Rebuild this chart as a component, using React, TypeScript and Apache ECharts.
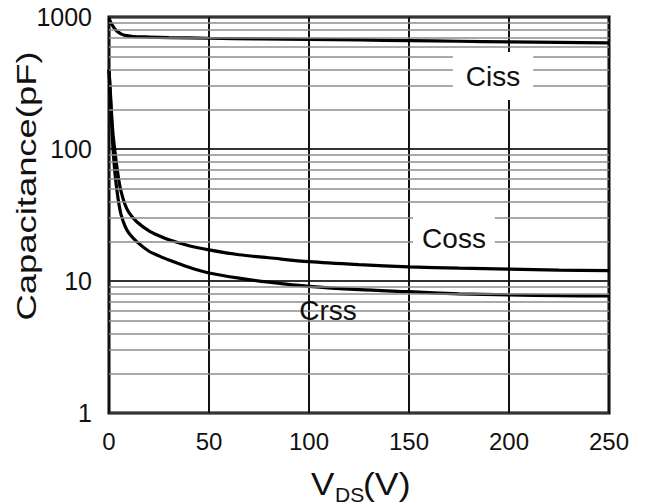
import { useEffect, useRef } from 'react';
import * as echarts from 'echarts';

// V_DS (V) sample points and capacitance (pF)
const cissV = [0, 1, 2, 3, 4, 6, 8, 12, 20, 30, 50, 75, 100, 125, 150, 175, 200, 225, 250];
const cissC = [980, 900, 850, 810, 780, 745, 725, 712, 705, 698, 690, 683, 677, 670, 662, 655, 648, 642, 636];

const cossV = [0, 0.5, 1, 1.5, 2, 3, 4, 5, 6, 8, 10, 14, 20, 25, 30, 40, 50, 65, 80, 100, 125, 150, 175, 200, 225, 250];
const cossC = [400, 300, 220, 165, 130, 95, 72, 57, 48, 38, 33, 28, 24, 22, 20.5, 18.5, 17.2, 15.8, 15, 14, 13.3, 12.8, 12.5, 12.3, 12.1, 12.0];

const crssV = [0, 0.5, 1, 1.5, 2, 3, 4, 5, 6, 8, 10, 14, 20, 25, 30, 40, 50, 65, 80, 100, 125, 150, 175, 200, 225, 250];
const crssC = [400, 280, 200, 140, 100, 65, 48, 38, 32, 26, 23, 19.8, 16.8, 15.5, 14.4, 12.7, 11.5, 10.5, 9.8, 9.1, 8.6, 8.3, 8.0, 7.85, 7.75, 7.7];

const xTicks = [0, 50, 100, 150, 200, 250];
const yDecades = [1, 10, 100, 1000];
const minorGrid = [2, 3, 4, 5, 6, 7, 8, 9, 20, 30, 40, 50, 60, 70, 80, 90, 200, 300, 400, 500, 600, 700, 800, 900];

const FONT = '"Liberation Sans", Arial, Helvetica, sans-serif';

const pairs = (xs: number[], ys: number[]) => xs.map((x, i) => [x, ys[i]]);

export default function App() {
  const ref = useRef<HTMLDivElement>(null);
  useEffect(() => {
    if (!ref.current) return;
    const chart = echarts.init(ref.current, undefined, { renderer: 'svg' });
    const curve = (name: string, data: number[][]) => ({
      name,
      type: 'line',
      data,
      smooth: 0.3,
      showSymbol: false,
      symbol: 'none',
      z: 3,
      lineStyle: { color: '#000', width: 3.2 },
      silent: true,
    });
    chart.setOption({
      animation: false,
      backgroundColor: '#fff',
      grid: {
        left: 109,
        top: 17,
        width: 500,
        height: 396,
        show: true,
        borderColor: '#000',
        borderWidth: 3,
        backgroundColor: 'transparent',
      },
      xAxis: {
        type: 'value',
        min: xTicks[0],
        max: xTicks[xTicks.length - 1],
        interval: 50,
        axisLine: { show: false },
        axisTick: { show: false },
        axisLabel: { fontSize: 24, color: '#111', fontFamily: FONT, margin: 16 },
        splitLine: { show: true, lineStyle: { color: '#111', width: 2 } },
      },
      yAxis: {
        type: 'log',
        logBase: 10,
        min: yDecades[0],
        max: yDecades[yDecades.length - 1],
        axisLine: { show: false },
        axisTick: { show: false },
        axisLabel: {
          fontSize: 25,
          color: '#111',
          fontFamily: FONT,
          margin: 17,
          formatter: (v: number) => String(Math.round(v)),
        },
        splitLine: { show: true, lineStyle: { color: '#333', width: 2 } },
      },
      series: [
        {
          name: 'grid',
          type: 'line',
          data: [],
          z: 1,
          silent: true,
          markLine: {
            silent: true,
            symbol: ['none', 'none'],
            label: { show: false },
            lineStyle: { color: '#8c8c8c', width: 1.5, type: 'solid' },
            data: minorGrid.map((v) => ({ yAxis: v })),
          },
        },
        curve('Ciss', pairs(cissV, cissC)),
        curve('Coss', pairs(cossV, cossC)),
        curve('Crss', pairs(crssV, crssC)),
      ],
      graphic: [
        {
          type: 'text',
          x: 493,
          y: 76,
          z: 10,
          style: {
            text: 'Ciss',
            fontSize: 28,
            fontFamily: FONT,
            fill: '#111',
            align: 'center',
            verticalAlign: 'middle',
            backgroundColor: '#fff',
            padding: [10, 13],
          },
        },
        {
          type: 'text',
          x: 454,
          y: 238,
          z: 10,
          style: {
            text: 'Coss',
            fontSize: 28,
            fontFamily: FONT,
            fill: '#111',
            align: 'center',
            verticalAlign: 'middle',
            backgroundColor: '#fff',
            padding: [10, 9],
          },
        },
        {
          type: 'text',
          x: 328,
          y: 310,
          z: 10,
          style: {
            text: 'Crss',
            fontSize: 28,
            fontFamily: FONT,
            fill: '#111',
            align: 'center',
            verticalAlign: 'middle',
          },
        },
        {
          type: 'text',
          x: 27,
          y: 186,
          rotation: Math.PI / 2,
          scaleX: 1.3,
          style: {
            text: 'Capacitance(pF)',
            fontSize: 28,
            fontFamily: FONT,
            fill: '#111',
            align: 'center',
            verticalAlign: 'middle',
          },
        },
        {
          type: 'text',
          x: 311,
          y: 484,
          scaleX: 1.13,
          style: { text: 'V', fontSize: 31, fontFamily: FONT, fill: '#111', align: 'left', verticalAlign: 'middle' },
        },
        {
          type: 'text',
          x: 335,
          y: 494,
          style: { text: 'DS', fontSize: 21, fontFamily: FONT, fill: '#111', align: 'left', verticalAlign: 'middle' },
        },
        {
          type: 'text',
          x: 363,
          y: 484,
          scaleX: 1.15,
          style: { text: '(V)', fontSize: 31, fontFamily: FONT, fill: '#111', align: 'left', verticalAlign: 'middle' },
        },
      ],
    });
    return () => chart.dispose();
  }, []);
  return (
    <div
      ref={ref}
      style={{ position: 'fixed', left: 0, top: 0, width: 649, height: 504 }}
    />
  );
}
